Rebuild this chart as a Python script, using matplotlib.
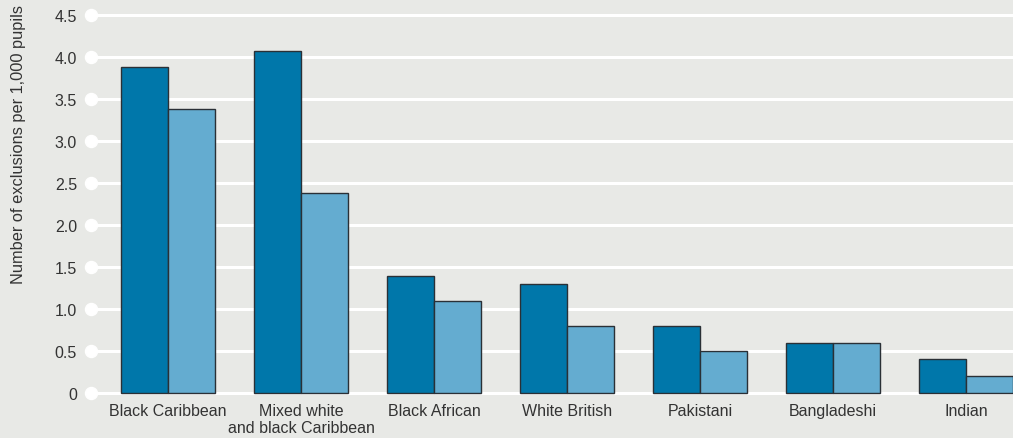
import matplotlib
matplotlib.use("Agg")
import matplotlib.pyplot as plt
import numpy as np

categories = ["Black Caribbean", "Mixed white\nand black Caribbean", "Black African",
              "White British", "Pakistani", "Bangladeshi", "Indian"]
series_a = [3.88, 4.07, 1.39, 1.30, 0.80, 0.60, 0.40]
series_b = [3.38, 2.38, 1.10, 0.80, 0.50, 0.60, 0.20]
yticks = [0, 0.5, 1.0, 1.5, 2.0, 2.5, 3.0, 3.5, 4.0, 4.5]
ytick_labels = ["0", "0.5", "1.0", "1.5", "2.0", "2.5", "3.0", "3.5", "4.0", "4.5"]

plt.rcParams['font.family'] = ['Liberation Sans', 'DejaVu Sans']

bg = "#e8e9e6"
fig = plt.figure(figsize=(10.13, 4.39), dpi=100, facecolor=bg)
ax = fig.add_axes([91/1013, 43/439, 1 - 91/1013, 1 - 43/439])
ax.set_facecolor(bg)

x = np.arange(len(categories))
w = 0.353
ax.bar(x - w/2, series_a, width=w, color="#0077aa", edgecolor="#2a3036", linewidth=1.0, zorder=3)
ax.bar(x + w/2, series_b, width=w, color="#64acd0", edgecolor="#2a3036", linewidth=1.0, zorder=3)

ax.set_xlim(-0.579, 6.353)
ax.set_ylim(-0.024, 4.69)

for yv in yticks:
    ax.axhline(yv, color="white", linewidth=2.2, zorder=1)
ax.scatter([-0.579]*len(yticks), yticks, s=75, color="white", zorder=4, clip_on=False)

ax.set_yticks(yticks)
ax.set_yticklabels(ytick_labels, fontsize=11.5, color="#333333")
ax.set_xticks(x)
ax.set_xticklabels(categories, fontsize=11.5, color="#333333", linespacing=1.1)
ax.tick_params(axis='both', length=0)
ax.tick_params(axis='y', pad=10)
ax.tick_params(axis='x', pad=6)
for s in ax.spines.values():
    s.set_visible(False)

fig.text(19/1013, 1 - 144/439, "Number of exclusions per 1,000 pupils", rotation=90,
         ha="center", va="center", fontsize=11.8, color="#333333")

fig.savefig("out.png", dpi=100, facecolor=bg)
